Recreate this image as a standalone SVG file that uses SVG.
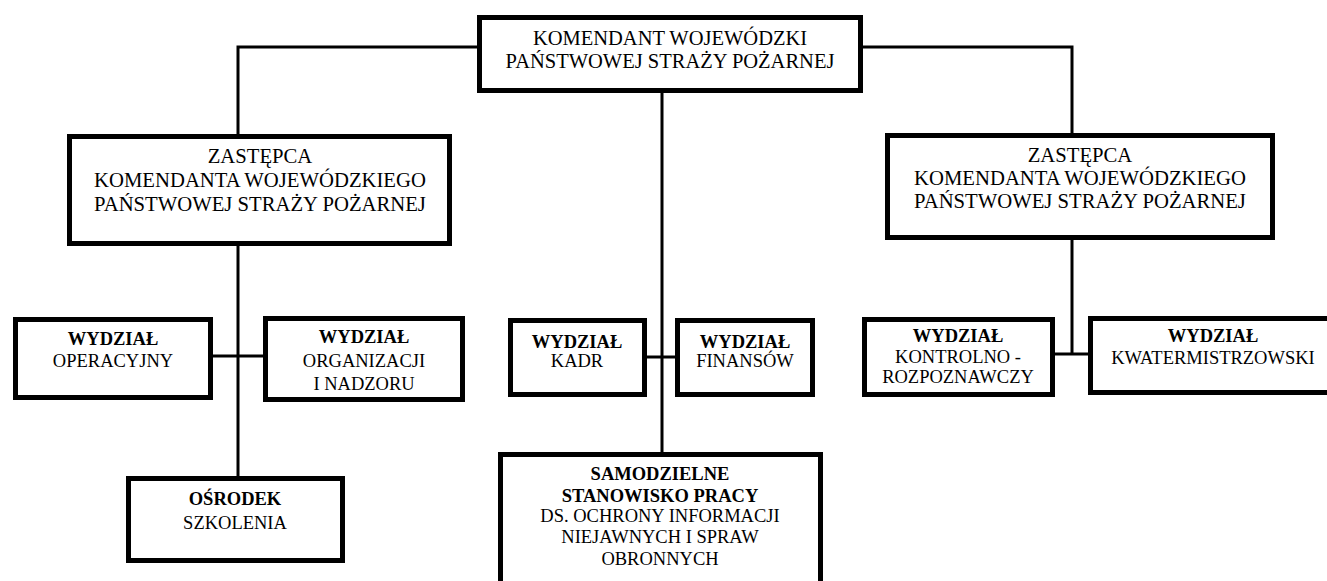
<svg xmlns="http://www.w3.org/2000/svg" width="1327" height="581" viewBox="0 0 1327 581">
<style>
.box{fill:#fff;stroke:#000;stroke-width:5}
.ln{stroke:#000;stroke-width:3;fill:none}
text{font-family:"Liberation Serif","Times New Roman",serif;fill:#000;text-anchor:middle}
.big{font-size:20.5px}
.dep{font-size:20.7px}
.sm{font-size:18.5px}
.b{font-weight:bold}
</style>
<rect width="1327" height="581" fill="#fff"/>
<g id="connectors">
<polyline class="ln" points="238,137 238,47 1072,47 1072,135"/>
<line class="ln" x1="662" y1="93" x2="662" y2="454"/>
<line class="ln" x1="238" y1="246" x2="238" y2="476"/>
<line class="ln" x1="213" y1="356" x2="265" y2="356"/>
<line class="ln" x1="647" y1="357" x2="677" y2="357"/>
<line class="ln" x1="1072" y1="240" x2="1072" y2="355"/>
<line class="ln" x1="1055" y1="354" x2="1090" y2="354"/>
</g>
<g id="komendant">
<rect class="box" x="479.5" y="17.5" width="381" height="73"/>
<text class="big" x="670" y="45">KOMENDANT WOJEWÓDZKI</text>
<text class="big" x="670" y="68">PAŃSTWOWEJ STRAŻY POŻARNEJ</text>
</g>
<g id="zastepca-lewy">
<rect class="box" x="69.5" y="136.5" width="380" height="107"/>
<text class="dep" x="260" y="163">ZASTĘPCA</text>
<text class="dep" x="260" y="187">KOMENDANTA WOJEWÓDZKIEGO</text>
<text class="dep" x="260" y="211">PAŃSTWOWEJ STRAŻY POŻARNEJ</text>
</g>
<g id="zastepca-prawy">
<rect class="box" x="887.5" y="135.5" width="385" height="102"/>
<text class="dep" x="1080" y="162">ZASTĘPCA</text>
<text class="dep" x="1080" y="185">KOMENDANTA WOJEWÓDZKIEGO</text>
<text class="dep" x="1080" y="208">PAŃSTWOWEJ STRAŻY POŻARNEJ</text>
</g>
<g id="operacyjny">
<rect class="box" x="15.5" y="319.5" width="195" height="78"/>
<text class="sm b" x="113" y="345">WYDZIAŁ</text>
<text class="sm" x="113" y="367">OPERACYJNY</text>
</g>
<g id="organizacji">
<rect class="box" x="265.5" y="318.5" width="197" height="81"/>
<text class="sm b" x="364" y="343">WYDZIAŁ</text>
<text class="sm" x="364" y="367">ORGANIZACJI</text>
<text class="sm" x="364" y="390">I NADZORU</text>
</g>
<g id="kadr">
<rect class="box" x="510.5" y="320.5" width="134" height="74"/>
<text class="sm b" x="577" y="348">WYDZIAŁ</text>
<text class="sm" x="577" y="367">KADR</text>
</g>
<g id="finansow">
<rect class="box" x="677.5" y="320.5" width="135" height="74"/>
<text class="sm b" x="745" y="348">WYDZIAŁ</text>
<text class="sm" x="745" y="367">FINANSÓW</text>
</g>
<g id="kontrolno">
<rect class="box" x="864.5" y="319.5" width="188" height="75"/>
<text class="sm b" x="958" y="342">WYDZIAŁ</text>
<text class="sm" x="958" y="363">KONTROLNO -</text>
<text class="sm" x="958" y="383">ROZPOZNAWCZY</text>
</g>
<g id="kwatermistrzowski">
<rect class="box" x="1090.5" y="318.5" width="250" height="74"/>
<text class="sm b" x="1213" y="342">WYDZIAŁ</text>
<text class="sm" x="1213" y="364">KWATERMISTRZOWSKI</text>
</g>
<g id="osrodek">
<rect class="box" x="128.5" y="478.5" width="214" height="82"/>
<text class="sm b" x="235" y="505">OŚRODEK</text>
<text class="sm" x="235" y="529">SZKOLENIA</text>
</g>
<g id="samodzielne">
<rect class="box" x="500.5" y="454.5" width="320" height="140"/>
<text class="sm b" x="660" y="480">SAMODZIELNE</text>
<text class="sm b" x="660" y="502">STANOWISKO PRACY</text>
<text class="sm" x="660" y="522">DS. OCHRONY INFORMACJI</text>
<text class="sm" x="660" y="543">NIEJAWNYCH I SPRAW</text>
<text class="sm" x="660" y="565">OBRONNYCH</text>
</g>
</svg>
